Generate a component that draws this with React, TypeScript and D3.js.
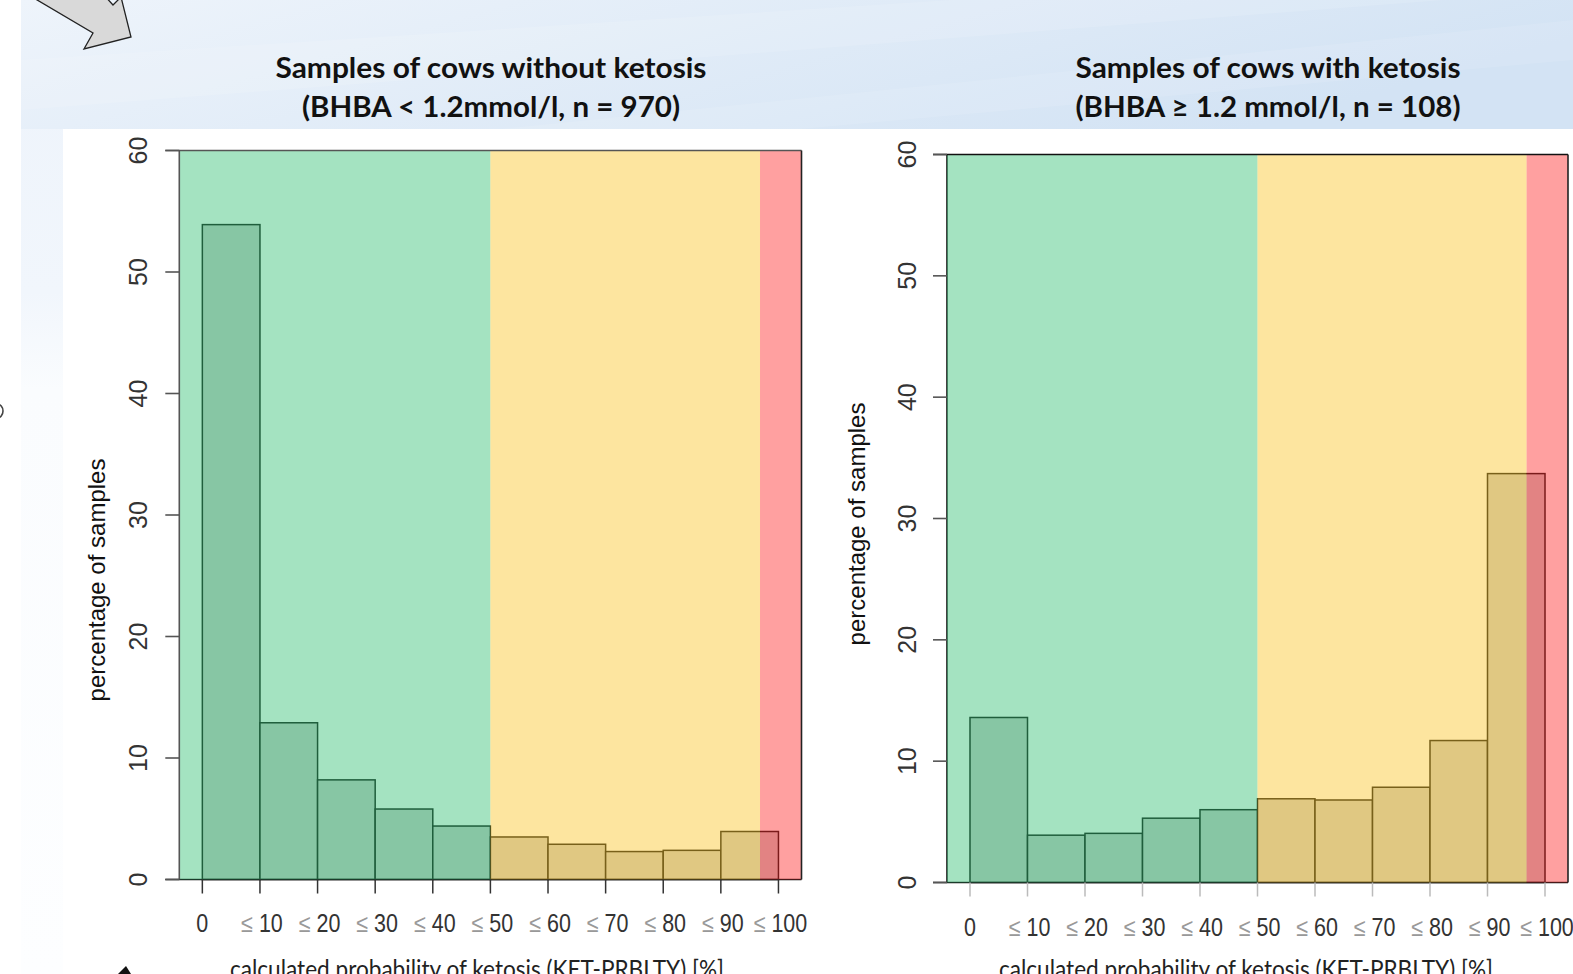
import React from 'react';
import { scaleLinear } from 'd3';

// percentage of samples per KET-PRBLTY class
const BIN_EDGES = [0, 10, 20, 30, 40, 50, 60, 70, 80, 90, 100];
const TICK_LABELS = ['0', '≤ 10', '≤ 20', '≤ 30', '≤ 40', '≤ 50', '≤ 60', '≤ 70', '≤ 80', '≤ 90', '≤ 100'];
const Y_TICKS = [0, 10, 20, 30, 40, 50, 60];
const NO_KETOSIS = [53.9, 12.9, 8.2, 5.8, 4.4, 3.5, 2.9, 2.3, 2.4, 3.95];
const KETOSIS = [13.6, 3.9, 4.05, 5.3, 6.0, 6.9, 6.8, 7.85, 11.7, 33.7];
const ZONE_BREAKS = [-4, 50, 96.8, 104];
const TITLES_LEFT = ['Samples of cows without ketosis', '(BHBA < 1.2mmol/l, n = 970)'];
const TITLES_RIGHT = ['Samples of cows with ketosis', '(BHBA ≥ 1.2 mmol/l, n = 108)'];
const X_TITLE = 'calculated probability of ketosis (KET-PRBLTY) [%]';
const Y_TITLE = 'percentage of samples';

const ZONE_COLORS = ['rgb(65,196,125)', 'rgb(250,200,54)', 'rgb(254,56,56)'];
const TICK_FONT = "'Liberation Sans', Arial, sans-serif";
const TITLE_FONT = "Lato, 'Open Sans', sans-serif";

type Cfg = {
  values: number[];
  titles: string[];
  x0: number; x1: number; yBottom: number; yTop: number;
  titleX: number; titleW: number[];
  yTitleX: number; yTitleY: number;
  xTitleX: number;
  yLabelX: number; xLabelY: number;
  frameColor: string; yAxisOnTop: boolean; xTickColor: string;
};

function Histogram({ cfg }: { cfg: Cfg }) {
  const xs = scaleLinear().domain([-4, 104]).range([cfg.x0, cfg.x1]);
  const ys = scaleLinear().domain([0, 60]).range([cfg.yBottom, cfg.yTop]);
  const yAxis = (
    <line x1={xs(-4)} x2={xs(-4)} y1={ys(60)} y2={ys(0)}
      stroke={cfg.yAxisOnTop ? '#555' : '#111'} strokeWidth={1.6} />
  );
  return (
    <g>
      {cfg.values.map((v, i) => (
        <rect key={i} x={xs(BIN_EDGES[i])} width={xs(BIN_EDGES[i + 1]) - xs(BIN_EDGES[i])}
          y={ys(v)} height={ys(0) - ys(v)} fill="#c7c7c7" stroke="#000" strokeWidth={1.5} />
      ))}
      <line x1={xs(-4) - 14} x2={xs(104)} y1={ys(0)} y2={ys(0)} stroke="#111" strokeWidth={1.6} />
      {!cfg.yAxisOnTop && yAxis}
      {ZONE_COLORS.map((c, i) => (
        <rect key={i} x={xs(ZONE_BREAKS[i])} width={xs(ZONE_BREAKS[i + 1]) - xs(ZONE_BREAKS[i])}
          y={ys(60)} height={ys(0) - ys(60)} fill={c} fillOpacity={0.48} />
      ))}
      {cfg.yAxisOnTop && yAxis}
      <line x1={xs(-4) - 14} x2={xs(104)} y1={ys(60)} y2={ys(60)} stroke={cfg.frameColor} strokeWidth={1.6} />
      <line x1={xs(104)} x2={xs(104)} y1={ys(60)} y2={ys(0)} stroke="#222" strokeWidth={1.6} />
      {Y_TICKS.map(t => (
        <g key={t}>
          <line x1={xs(-4) - 14} x2={xs(-4)} y1={ys(t)} y2={ys(t)} stroke="#555" strokeWidth={1.6} />
          <text transform={`translate(${cfg.yLabelX},${ys(t)}) rotate(-90)`} textAnchor="middle"
            fontFamily={TICK_FONT} fontSize={25} fill="#333">{t}</text>
        </g>
      ))}
      {BIN_EDGES.map((e, i) => (
        <g key={e}>
          <line x1={xs(e)} x2={xs(e)} y1={ys(0)} y2={ys(0) + 14} stroke={cfg.xTickColor} strokeWidth={1.5} />
          <text transform={`translate(${xs(e) + (i > 0 ? 2 : 0)},${cfg.xLabelY}) scale(0.86,1)`} textAnchor="middle"
            fontFamily={TICK_FONT} fontSize={25} fill="#333">
            {TICK_LABELS[i].startsWith('≤') ? (
              <><tspan fill="#999">≤</tspan>{TICK_LABELS[i].slice(1)}</>
            ) : TICK_LABELS[i]}
          </text>
        </g>
      ))}
      <text transform={`translate(${cfg.yTitleX},${cfg.yTitleY}) rotate(-90)`} textAnchor="middle"
        fontFamily={TICK_FONT} fontSize={24} fill="#111">{Y_TITLE}</text>
      <text x={cfg.xTitleX} y={978} textAnchor="middle" fontFamily={TITLE_FONT} fontSize={25}
        textLength={494} lengthAdjust="spacingAndGlyphs" fill="#222">{X_TITLE}</text>
      {cfg.titles.map((t, i) => (
        <text key={i} x={cfg.titleX} y={78 + i * 38.5} textAnchor="middle" fontFamily={TITLE_FONT}
          fontWeight="bold" fontSize={28} textLength={cfg.titleW[i]} lengthAdjust="spacingAndGlyphs"
          fill="#111">{t}</text>
      ))}
    </g>
  );
}

const LEFT: Cfg = {
  values: NO_KETOSIS, titles: TITLES_LEFT,
  x0: 179.3, x1: 801.5, yBottom: 879.5, yTop: 150.5,
  titleX: 491, titleW: [431, 378],
  yTitleX: 105, yTitleY: 580, xTitleX: 477,
  yLabelX: 147, xLabelY: 932,
  frameColor: '#555', yAxisOnTop: true, xTickColor: '#333',
};

const RIGHT: Cfg = {
  values: KETOSIS, titles: TITLES_RIGHT,
  x0: 947, x1: 1568, yBottom: 882.5, yTop: 154.5,
  titleX: 1268, titleW: [385, 385],
  yTitleX: 865, yTitleY: 524, xTitleX: 1246,
  yLabelX: 916, xLabelY: 936,
  frameColor: '#111', yAxisOnTop: false, xTickColor: '#bbb',
};

export default function App() {
  return (
    <svg width={1573} height={974} style={{ position: 'absolute', left: 0, top: 0 }}>
      <defs>
        <linearGradient id="band" x1="0" y1="0" x2="1" y2="0.3">
          <stop offset="0" stopColor="#eef4fb" />
          <stop offset="1" stopColor="#d3e3f4" />
        </linearGradient>
        <linearGradient id="strip" x1="0" y1="0" x2="0" y2="1">
          <stop offset="0" stopColor="#edf3fb" />
          <stop offset="0.3" stopColor="#f1f6fc" />
          <stop offset="0.4" stopColor="#fafcfe" />
          <stop offset="1" stopColor="#fdfeff" />
        </linearGradient>
      </defs>
      <rect width={1573} height={974} fill="#fff" />
      <rect x={21} y={0} width={1552} height={974} fill="url(#strip)" />
      <rect x={21} y={0} width={1552} height={129} fill="url(#band)" />
      <path d="M21,60 L1573,-40 L1573,-10 L21,110 Z" fill="#fff" opacity={0.12} />
      <path d="M500,129 L1573,20 L1573,60 L800,129 Z" fill="#fff" opacity={0.1} />
      <rect x={63} y={129} width={1510} height={845} fill="#fff" />
      <path d="M27,-6 L93,33 L84,49 L131,37 L121,-3 L113,5 L103,-6 Z" fill="#d9d9d9" stroke="#222" strokeWidth={1.3} />
      <path d="M-3,404 A6,7 0 0 1 -3,418" fill="none" stroke="#444" strokeWidth={1.6} />
      <path d="M118,974 L126,966 L131,974" fill="#111" />
      <Histogram cfg={LEFT} />
      <Histogram cfg={RIGHT} />
    </svg>
  );
}
